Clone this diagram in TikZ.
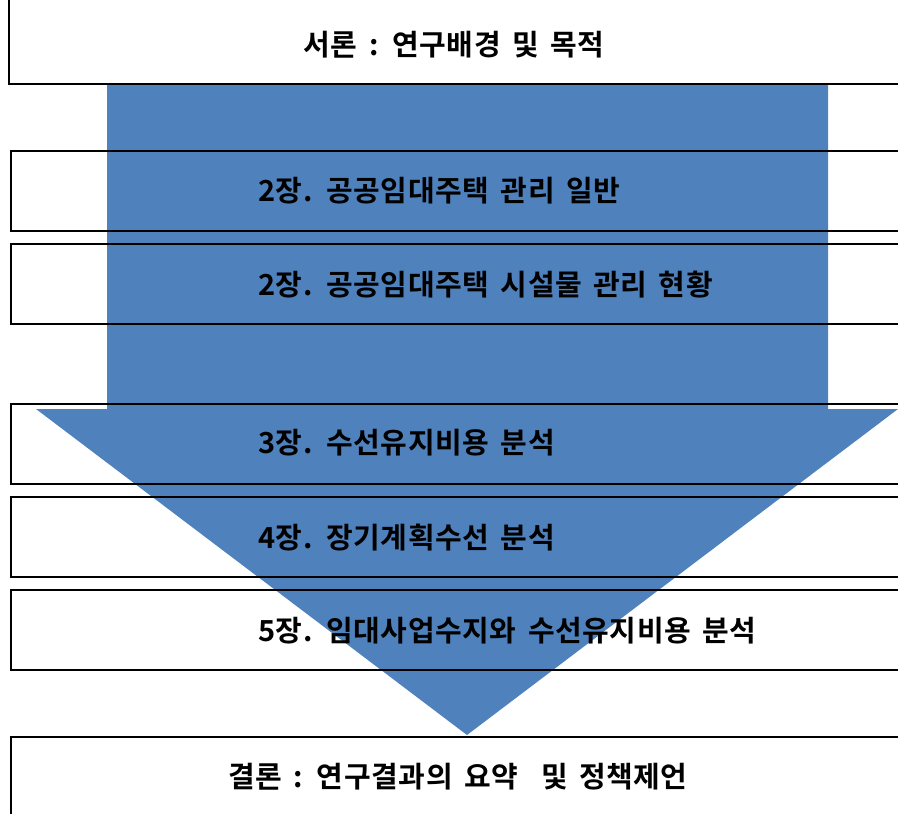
\documentclass[tikz,border=0pt]{standalone}
\usepackage{fontspec}
\newfontfamily\kr{Noto Sans CJK KR}[BoldFont={Noto Sans CJK KR Bold},WordSpace=1.6,LetterSpace=2]
\definecolor{arrowblue}{RGB}{79,129,189}
\begin{document}
\begin{tikzpicture}[x=1pt,y=-1pt,
  box/.style={draw=black, line width=1.6pt, rectangle, inner sep=0pt, anchor=north west, minimum width=900pt},
  lbl/.style={font=\kr\bfseries\fontsize{29}{33}\selectfont, inner sep=0pt, text=black}]
\useasboundingbox (0,0) rectangle (898,814);
\clip (0,0) rectangle (898,814);
% big arrow
\fill[arrowblue] (107,82) -- (828,82) -- (828,409) -- (898,409) -- (467,735) -- (36,409) -- (107,409) -- cycle;
% boxes
\node[box, fill=white, minimum height=87pt] (b1) at (8,-4) {};
\node[box, minimum height=80pt] (b2) at (10,150) {};
\node[box, minimum height=80pt] (b3) at (10,243) {};
\node[box, minimum height=80pt] (b4) at (10,403) {};
\node[box, minimum height=80pt] (b5) at (10,496) {};
\node[box, minimum height=80pt] (b6) at (10,589) {};
\node[box, minimum height=90pt] (b7) at (10,736) {};
% texts
\node[lbl] (t1) at (454,45) {서론 : 연구배경 및 목적};
\node[lbl, anchor=west] (t2) at (258,191) {2장. 공공임대주택 관리 일반};
\node[lbl, anchor=west] (t3) at (258,285) {2장. 공공임대주택 시설물 관리 현황};
\node[lbl, anchor=west] (t4) at (258,443) {3장. 수선유지비용 분석};
\node[lbl, anchor=west] (t5) at (258,538) {4장. 장기계획수선 분석};
\node[lbl, anchor=west] (t6) at (258,631) {5장. 임대사업수지와 수선유지비용 분석};
\node[lbl] (t7) at (458,777) {결론 : 연구결과의 요약\ \ 및 정책제언};
\end{tikzpicture}
\end{document}
